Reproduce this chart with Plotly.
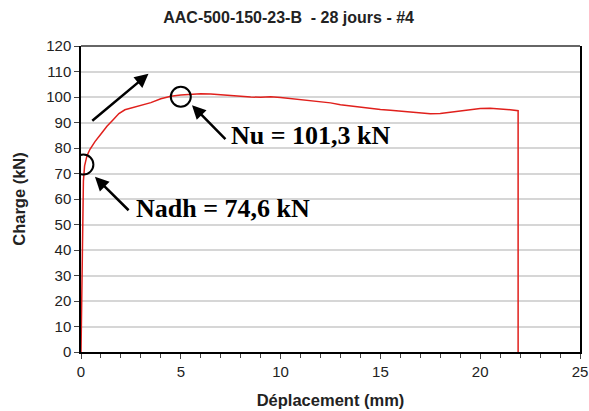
import plotly.graph_objects as go

# Load-displacement record (mm, kN)
displacement_mm = [0.0, 0.02, 0.05, 0.08, 0.10, 0.12, 0.18, 0.22, 0.30, 0.45, 0.70,
                   1.0, 1.3, 1.6, 1.9, 2.2, 2.6, 3.0, 3.5, 4.0, 4.5, 5.0, 5.5, 6.0,
                   6.5, 7.0, 7.5, 8.0, 8.5, 9.0, 9.5, 10.0, 10.5, 11.0, 11.5, 12.0,
                   12.5, 13.0, 13.5, 14.0, 14.5, 15.0, 15.5, 16.0, 16.5, 17.0, 17.5,
                   18.0, 18.5, 19.0, 19.5, 20.0, 20.5, 21.0, 21.5, 21.9, 21.9]
load_kn = [0.0, 15.0, 30.0, 50.0, 60.0, 67.0, 73.0, 74.6, 77.0, 79.5, 82.5,
           85.5, 88.5, 91.0, 93.5, 95.0, 95.8, 96.6, 97.8, 99.3, 100.3, 100.8, 101.1, 101.3,
           101.2, 100.9, 100.5, 100.1, 100.0, 99.9, 100.1, 99.8, 99.4, 99.0, 98.5, 98.1,
           97.7, 97.0, 96.5, 96.0, 95.6, 95.1, 94.8, 94.4, 94.0, 93.7, 93.4,
           93.5, 94.0, 94.6, 95.1, 95.5, 95.6, 95.4, 95.0, 94.6, 0.0]

# Marked points: (mm, kN) circle centres and labels
nadh_point = (0.12, 73.5)
nu_point = (5.0, 100.1)
nadh_label = "Nadh = 74,6 kN"
nu_label = "Nu = 101,3 kN"

x_ticks = [0, 5, 10, 15, 20, 25]
y_ticks = list(range(0, 121, 10))

fig = go.Figure()
fig.add_trace(go.Scatter(x=displacement_mm, y=load_kn, mode="lines",
                         line=dict(color="#e0201c", width=1.5),
                         hoverinfo="skip", showlegend=False))

# circle radius in pixels converted to data units (x: ~19.96 px/mm, y: ~2.558 px/kN)
r_px = 10
rx = r_px / 19.96
ry = r_px / 2.558
shapes = []
for cx, cy in (nadh_point, nu_point):
    shapes.append(dict(type="circle", xref="x", yref="y",
                       x0=cx - rx, x1=cx + rx, y0=cy - ry, y1=cy + ry,
                       line=dict(color="black", width=2)))
# gray top border of the plot frame
shapes.append(dict(type="line", xref="paper", yref="paper", x0=0, x1=1, y0=1, y1=1,
                   line=dict(color="#666666", width=2)))

arrow_common = dict(xref="x", yref="y", axref="x", ayref="y", text="",
                    showarrow=True, arrowhead=2, arrowsize=1.1, arrowwidth=2.5,
                    arrowcolor="black", standoff=0, startstandoff=0)
annotations = [
    # generic direction arrow
    dict(x=3.38, y=109.1, ax=0.49, ay=90.2, **arrow_common),
    # arrow to Nu
    dict(x=5.56, y=96.8, ax=7.31, ay=82.9, **arrow_common),
    # arrow to Nadh
    dict(x=0.70, y=68.7, ax=2.46, ay=55.0, **arrow_common),
    dict(x=7.43, y=85.0, xref="x", yref="y", text=f"<b>{nu_label}</b>",
         showarrow=False, xanchor="left", yanchor="middle",
         font=dict(family="Liberation Serif", size=26, color="black")),
    dict(x=2.66, y=56.3, xref="x", yref="y", text=f"<b>{nadh_label}</b>",
         showarrow=False, xanchor="left", yanchor="middle",
         font=dict(family="Liberation Serif", size=26, color="black")),
]

fig.update_layout(
    width=589, height=411,
    margin=dict(l=81, r=9, t=45.5, b=58.5),
    paper_bgcolor="white", plot_bgcolor="white",
    title=dict(text="<b>AAC-500-150-23-B  - 28 jours - #4</b>",
               x=0.49, xanchor="center", y=0.958, yanchor="middle",
               font=dict(family="Liberation Sans", size=16, color="#222222")),
    font=dict(family="Liberation Sans", size=15, color="#222222"),
    shapes=shapes,
    annotations=annotations,
)

fig.update_xaxes(
    range=[0, 25], tickvals=x_ticks, ticktext=[str(v) for v in x_ticks],
    automargin=False,
    showgrid=False, zeroline=False,
    showline=True, linecolor="black", linewidth=1.5, mirror=False,
    ticks="outside", ticklen=5, tickcolor="#444444", tickwidth=1,
    minor=dict(dtick=1, ticks="outside", ticklen=4, tickcolor="#444444", showgrid=False),
    tickfont=dict(size=15, color="#222222"),
    title=dict(text="<b>Déplacement (mm)</b>", standoff=16,
               font=dict(size=16.5, color="#222222")),
)
fig.update_yaxes(
    range=[0, 120], tickvals=y_ticks, ticktext=[str(v) for v in y_ticks],
    automargin=False,
    showgrid=True, gridcolor="#d6d6d6", gridwidth=2, zeroline=False,
    showline=True, linecolor="black", linewidth=1.5, mirror=True,
    ticks="outside", ticklen=5, tickcolor="#444444", tickwidth=1,
    tickfont=dict(size=15, color="#222222"),
    title=dict(text="<b>Charge (kN)</b>", standoff=16,
               font=dict(size=16.5, color="#222222")),
)

fig.write_html("out.html")
